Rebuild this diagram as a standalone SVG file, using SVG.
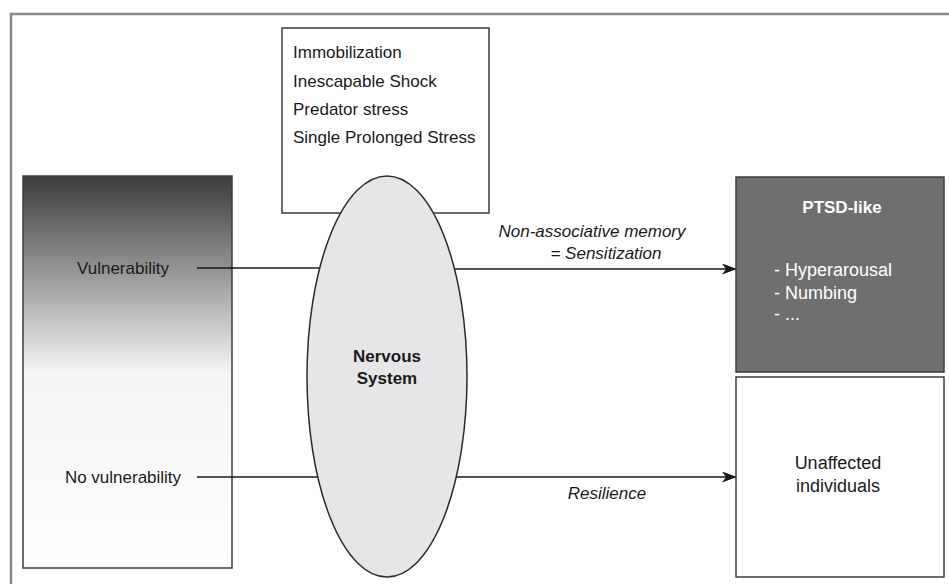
<svg xmlns="http://www.w3.org/2000/svg" width="949" height="584" viewBox="0 0 949 584">
<style>
text{font-family:"Liberation Sans",Arial,sans-serif;font-size:17px;fill:#1a1a1a}
.it{font-style:italic}
.b{font-weight:bold}
.w{fill:#ffffff}
.l18{font-size:18px}
.box{stroke:#3c3c3c;stroke-width:1.5}
.ln{stroke:#1a1a1a;stroke-width:1.5;fill:none}
</style>
<defs>
<linearGradient id="g" x1="0" y1="0" x2="0" y2="1">
<stop offset="0" stop-color="#3c3c3c"/>
<stop offset="0.5" stop-color="#f4f4f4"/>
<stop offset="1" stop-color="#ffffff"/>
</linearGradient>
<marker id="ah" markerWidth="15" markerHeight="11" refX="14" refY="5.5" orient="auto" markerUnits="userSpaceOnUse">
<path d="M0,0 L15,5.5 L0,11 L4,5.5 Z" fill="#1a1a1a"/>
</marker>
</defs>
<rect width="949" height="584" fill="#ffffff"/>
<path d="M11,590 V14 H960" fill="none" stroke="#888888" stroke-width="2.5"/>

<g id="stressors">
<rect class="box" x="282" y="28" width="207" height="185" fill="#ffffff"/>
<text x="293" y="58">Immobilization</text>
<text x="293" y="87">Inescapable Shock</text>
<text x="293" y="115">Predator stress</text>
<text x="293" y="143">Single Prolonged Stress</text>
</g>

<g id="vulnerability">
<rect class="box" x="23" y="176" width="209" height="392" fill="url(#g)"/>
<text x="123" y="274" text-anchor="middle">Vulnerability</text>
<text x="123" y="483" text-anchor="middle">No vulnerability</text>
</g>

<g id="connectors">
<line class="ln" x1="197" y1="268" x2="320" y2="268"/>
<line class="ln" x1="197" y1="477" x2="320" y2="477"/>
<line class="ln" x1="455" y1="269" x2="736" y2="269" marker-end="url(#ah)"/>
<line class="ln" x1="455" y1="477" x2="736" y2="477" marker-end="url(#ah)"/>
<text class="it" x="592" y="237" text-anchor="middle">Non-associative memory</text>
<text class="it" x="606" y="259" text-anchor="middle">= Sensitization</text>
<text class="it" x="607" y="499" text-anchor="middle">Resilience</text>
</g>

<g id="nervous-system">
<ellipse cx="387" cy="376.5" rx="80" ry="200.5" fill="#e6e6e8" stroke="#2a2a2a" stroke-width="1.5"/>
<text class="b" x="387" y="362" text-anchor="middle">Nervous</text>
<text class="b" x="387" y="384" text-anchor="middle">System</text>
</g>

<g id="ptsd">
<rect class="box" x="736" y="177" width="208" height="195" fill="#6f6f6f"/>
<text class="b w" x="842" y="213" text-anchor="middle">PTSD-like</text>
<text class="w l18" x="774" y="276">- Hyperarousal</text>
<text class="w l18" x="774" y="299">- Numbing</text>
<text class="w l18" x="774" y="320">- ...</text>
</g>

<g id="unaffected">
<rect class="box" x="736" y="377" width="208" height="200" fill="#ffffff"/>
<text class="l18" x="838" y="469" text-anchor="middle">Unaffected</text>
<text class="l18" x="838" y="492" text-anchor="middle">individuals</text>
</g>
</svg>
